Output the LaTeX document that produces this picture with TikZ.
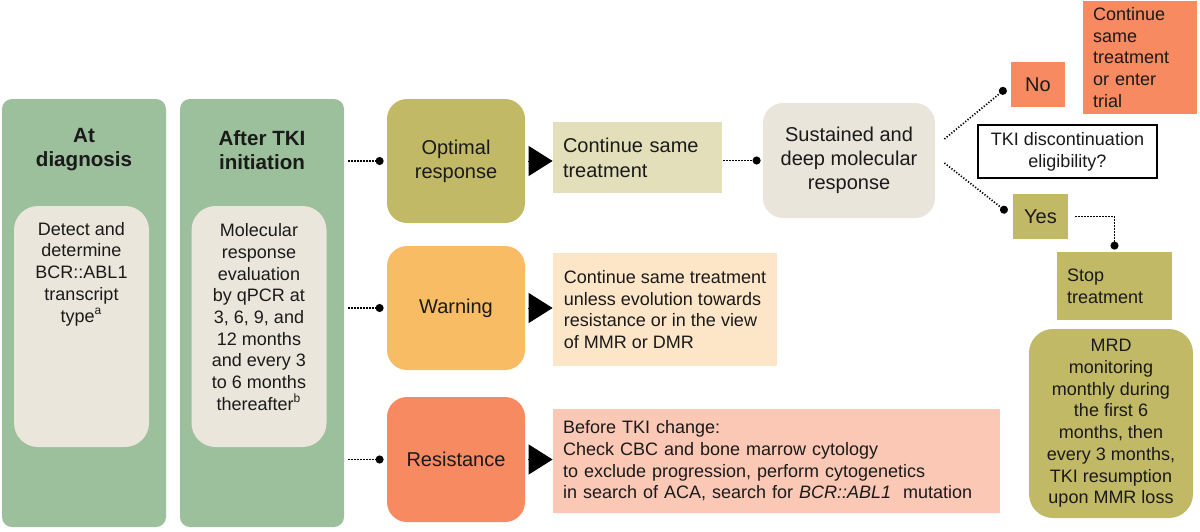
\documentclass[tikz,border=0pt]{standalone}
\usepackage{fontspec}
\setmainfont{Liberation Sans}
\usetikzlibrary{arrows.meta,calc}
\definecolor{panelgreen}{HTML}{9CBF9C}
\definecolor{innerbeige}{HTML}{EAE6DC}
\definecolor{olivec}{HTML}{C2B967}
\definecolor{lightolive}{HTML}{E3DFBB}
\definecolor{susbeige}{HTML}{E9E5DB}
\definecolor{warnc}{HTML}{F8BC65}
\definecolor{warnt}{HTML}{FDE6C8}
\definecolor{coralc}{HTML}{F88A62}
\definecolor{rest}{HTML}{FCC8B6}
\definecolor{txt}{HTML}{1A1A1A}
\begin{document}
\hyphenpenalty=10000 \exhyphenpenalty=10000
\begin{tikzpicture}[x=0.5pt,y=-0.5pt,
  every node/.style={font=\fontsize{9}{10.85}\selectfont, inner sep=0pt, text=txt},
  panel/.style={rectangle, fill=panelgreen, rounded corners=5pt, minimum width=82pt, minimum height=214pt},
  inbox/.style={rectangle, fill=innerbeige, rounded corners=12pt, minimum width=67.5pt, minimum height=120.5pt},
  title/.style={font=\fontsize{10.3}{12}\selectfont\bfseries, align=center},
  ptext/.style={align=center},
  status/.style={rectangle, rounded corners=10pt, minimum width=69pt, minimum height=62pt, font=\fontsize{10}{12}\selectfont, align=center},
  tbox/.style={rectangle, align=left, inner xsep=5pt},
  small/.style={rectangle, font=\fontsize{10}{12}\selectfont, minimum height=22.5pt},
  dotcon/.style={line width=0.85pt, dash pattern=on 0.6pt off 0.9pt, -{Circle[length=4pt]}},
  tri/.style={line width=0.5pt, shorten <=1.5pt, -{Triangle[length=12pt,width=15pt]}}
]
\useasboundingbox (0,0) rectangle (1200,531);

% left panels
\node[panel] (p1) at (84,313) {};
\node[title] (t1) at (84,150) {At\\diagnosis};
\node[inbox] (i1) at (81.5,326.5) {};
\node[ptext] (i1t) at (81.5,274) {Detect and\\determine\\BCR::ABL1\\transcript\\type\textsuperscript{a}};

\node[panel] (p2) at (262,313) {};
\node[title] (t2) at (262,150) {After TKI\\initiation};
\node[inbox] (i2) at (259,326.5) {};
\node[ptext] (i2t) at (259,317) {Molecular\\response\\evaluation\\by qPCR at\\3, 6, 9, and\\12 months\\and every 3\\to 6 months\\thereafter\textsuperscript{b}};

% status boxes
\node[status, fill=olivec] (opt) at (456,161) {Optimal\\response};
\node[status, fill=warnc] (warn) at (456,308) {Warning};
\node[status, fill=coralc, minimum height=62.5pt] (res) at (456,459.5) {Resistance};

% text boxes
\node[tbox, fill=lightolive, minimum width=84.5pt, minimum height=35.5pt, text width=74.5pt, font=\fontsize{10}{12.5}\selectfont] (c1) at (637.5,157.5) {Continue same\\treatment};
\node[rectangle, align=left, fill=warnt, minimum width=112pt, minimum height=56.5pt] (c2) at (665,309.5) {Continue same treatment\\unless evolution towards\\resistance or in the view\\of MMR or DMR};
\node[tbox, fill=rest, minimum width=223.5pt, minimum height=52pt, text width=213.5pt] (c3) at (776.5,461) {Before TKI change:\\Check CBC and bone marrow cytology\\to exclude progression, perform cytogenetics\\in search of ACA, search for \textit{BCR::ABL1}\ \ mutation};

% right part
\node[rectangle, fill=susbeige, rounded corners=10pt, minimum width=86pt, minimum height=57.5pt, align=center, font=\fontsize{10}{12}\selectfont] (sus) at (849,160.5) {Sustained and\\deep molecular\\response};
\node[small, fill=coralc, minimum width=27pt] (no) at (1038,84.5) {No};
\node[small, fill=olivec, minimum width=27.5pt] (yes) at (1040.5,216.5) {Yes};
\node[tbox, fill=coralc, minimum width=57pt, minimum height=56.5pt, text width=47pt] (trial) at (1140,57.5) {Continue\\same\\treatment\\or enter\\trial};
\node[rectangle, draw=black, line width=0.6pt, fill=white, minimum width=89.5pt, minimum height=26.5pt, align=center] (tki) at (1067.5,151.5) {TKI discontinuation\\eligibility?};
\node[tbox, fill=olivec, minimum width=57.5pt, minimum height=34pt, text width=47.5pt] (stop) at (1114.5,286) {Stop\\treatment};
\node[rectangle, fill=olivec, rounded corners=12pt, minimum width=82pt, minimum height=94.5pt, align=center] (mrd) at (1111,423.5) {MRD\\monitoring\\monthly during\\the first 6\\months, then\\every 3 months,\\TKI resumption\\upon MMR loss};

% connectors
\draw[dotcon, shorten <=2pt, shorten >=1.5pt] (p2.east |- opt.west) -- (opt.west);
\draw[dotcon, shorten <=2pt, shorten >=1.5pt] (p2.east |- warn.west) -- (warn.west);
\draw[dotcon, shorten <=2pt, shorten >=1.5pt] (p2.east |- res.west) -- (res.west);

\draw[tri] (opt.east) -- (opt.east -| c1.west);
\draw[tri] (warn.east) -- (warn.east -| c2.west);
\draw[tri] (res.east) -- (res.east -| c3.west);

\draw[dotcon, shorten <=0.5pt, shorten >=1pt] (c1.east |- sus.west) -- (sus.west);
\draw[dotcon, shorten >=3pt] ($(sus.east)+(9,-21.5)$) -- (no.west);
\draw[dotcon, shorten >=3.5pt] ($(sus.east)+(9,2.5)$) -- (yes.west);
\draw[dotcon, shorten <=3.5pt, shorten >=1pt] (yes.east) -| (stop.north);
\end{tikzpicture}
\end{document}
